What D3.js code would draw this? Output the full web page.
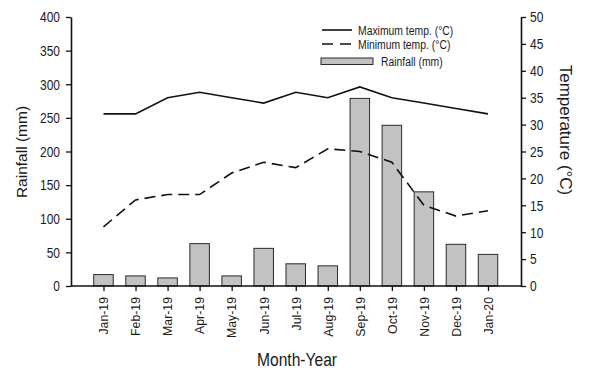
<!DOCTYPE html>
<html>
<head>
<meta charset="utf-8">
<script src="https://cdn.jsdelivr.net/npm/d3@7"></script>
<style>
  html, body { margin: 0; padding: 0; background: #fff; }
  svg { display: block; }
  text { font-family: "Liberation Sans", Arial, sans-serif; fill: #1a1a1a; }
</style>
</head>
<body>
<div id="chart"></div>
<script>
const months = ["Jan-19","Feb-19","Mar-19","Apr-19","May-19","Jun-19","Jul-19","Aug-19","Sep-19","Oct-19","Nov-19","Dec-19","Jan-20"];
const rainfall = [17, 15, 12, 63, 15, 56, 33, 30, 279, 239, 140, 62, 47];
const maxTemp = [32, 32, 35, 36, 35, 34, 36, 35, 37, 35, 34, 33, 32];
const minTemp = [11, 16, 17, 17, 21, 23, 22, 25.5, 25, 23, 15, 13, 14];
const rainTicks = [0, 50, 100, 150, 200, 250, 300, 350, 400];
const tempTicks = [0, 5, 10, 15, 20, 25, 30, 35, 40, 45, 50];

const W = 589, H = 375;
const L = 71, R = 521, T = 17, B = 286;
const squeeze = 0.85;

const svg = d3.select("#chart").append("svg").attr("width", W).attr("height", H);

const x = d3.scaleLinear().domain([-1.014, 13.03]).range([L, R]);
const yR = d3.scaleLinear().domain([0, 400]).range([B, T]);
const yT = d3.scaleLinear().domain([0, 50]).range([B, T]);

function fit(sel, f) {
  sel.each(function() {
    const w = this.getComputedTextLength();
    d3.select(this).attr("textLength", w * f).attr("lengthAdjust", "spacingAndGlyphs");
  });
}

// bars
const bw = 19.5;
svg.append("g").selectAll("rect").data(rainfall).join("rect")
  .attr("x", (d, i) => x(i) - bw / 2)
  .attr("y", d => yR(d))
  .attr("width", bw)
  .attr("height", d => yR(0) - yR(d))
  .attr("fill", "#c2c2c2")
  .attr("stroke", "#2a2a2a")
  .attr("stroke-width", 1);

// lines
const line = d3.line().x((d, i) => x(i)).y(d => yT(d));
svg.append("path").datum(maxTemp).attr("d", line)
  .attr("fill", "none").attr("stroke", "#111").attr("stroke-width", 1.6);
svg.append("path").datum(minTemp).attr("d", line)
  .attr("fill", "none").attr("stroke", "#111").attr("stroke-width", 1.6)
  .attr("stroke-dasharray", "11,6");

// left axis
const gL = svg.append("g").attr("transform", `translate(${L},0)`)
  .call(d3.axisLeft(yR).tickValues(rainTicks).tickSize(5).tickPadding(6).tickSizeOuter(0));
// right axis
const gR = svg.append("g").attr("transform", `translate(${R},0)`)
  .call(d3.axisLeft(yT).tickValues(tempTicks).tickSize(-5).tickPadding(0).tickSizeOuter(0));
gR.selectAll(".tick text").attr("x", 9).attr("text-anchor", "start");
// bottom axis
const gB = svg.append("g").attr("transform", `translate(0,${B})`)
  .call(d3.axisBottom(x).tickValues(d3.range(months.length)).tickFormat(i => months[i]).tickSize(5).tickSizeOuter(0));
gB.select(".domain").attr("d", `M${L},0H${R}`);

[gL, gR, gB].forEach(g => {
  g.select(".domain").attr("stroke", "#111").attr("stroke-width", 1.6);
  g.selectAll(".tick line").attr("stroke", "#111").attr("stroke-width", 1.3);
});
[gL, gR].forEach(g => {
  g.selectAll(".tick text").attr("font-size", 15).attr("font-family", "Liberation Sans, Arial, sans-serif").attr("fill", "#1a1a1a");
  fit(g.selectAll(".tick text"), 0.8);
});
gB.selectAll(".tick text")
  .attr("font-size", 12.3).attr("font-family", "Liberation Sans, Arial, sans-serif").attr("fill", "#1a1a1a")
  .attr("text-anchor", "end")
  .attr("y", 0).attr("dy", "0.35em")
  .attr("transform", "translate(0,11) rotate(-90)")
  .attr("x", 0);

// axis titles
svg.append("text").attr("transform", `translate(27,152) rotate(-90)`)
  .attr("text-anchor", "middle").attr("font-size", 15.5).text("Rainfall (mm)");
svg.append("text").attr("transform", `translate(560,130) rotate(90)`)
  .attr("text-anchor", "middle").attr("font-size", 17).text("Temperature (°C)");
svg.append("text").attr("x", 297).attr("y", 366)
  .attr("text-anchor", "middle").attr("font-size", 19)
  .attr("textLength", 80).attr("lengthAdjust", "spacingAndGlyphs").text("Month-Year");

// legend
const leg = svg.append("g");
leg.append("line").attr("x1", 322).attr("x2", 352).attr("y1", 30).attr("y2", 30)
  .attr("stroke", "#111").attr("stroke-width", 1.6);
leg.append("line").attr("x1", 322).attr("x2", 352).attr("y1", 44).attr("y2", 44)
  .attr("stroke", "#111").attr("stroke-width", 1.6).attr("stroke-dasharray", "11,7");
leg.append("rect").attr("x", 321).attr("y", 58).attr("width", 52).attr("height", 6.5)
  .attr("fill", "#c2c2c2").attr("stroke", "#2a2a2a").attr("stroke-width", 1);
const lt = [
  leg.append("text").attr("x", 358).attr("y", 34.5).attr("font-size", 12.5).text("Maximum temp. (°C)"),
  leg.append("text").attr("x", 358).attr("y", 48.5).attr("font-size", 12.5).text("Minimum temp. (°C)"),
  leg.append("text").attr("x", 381).attr("y", 65.5).attr("font-size", 12.5).text("Rainfall (mm)")
];
lt.forEach(t => fit(t, 0.83));
</script>
</body>
</html>
